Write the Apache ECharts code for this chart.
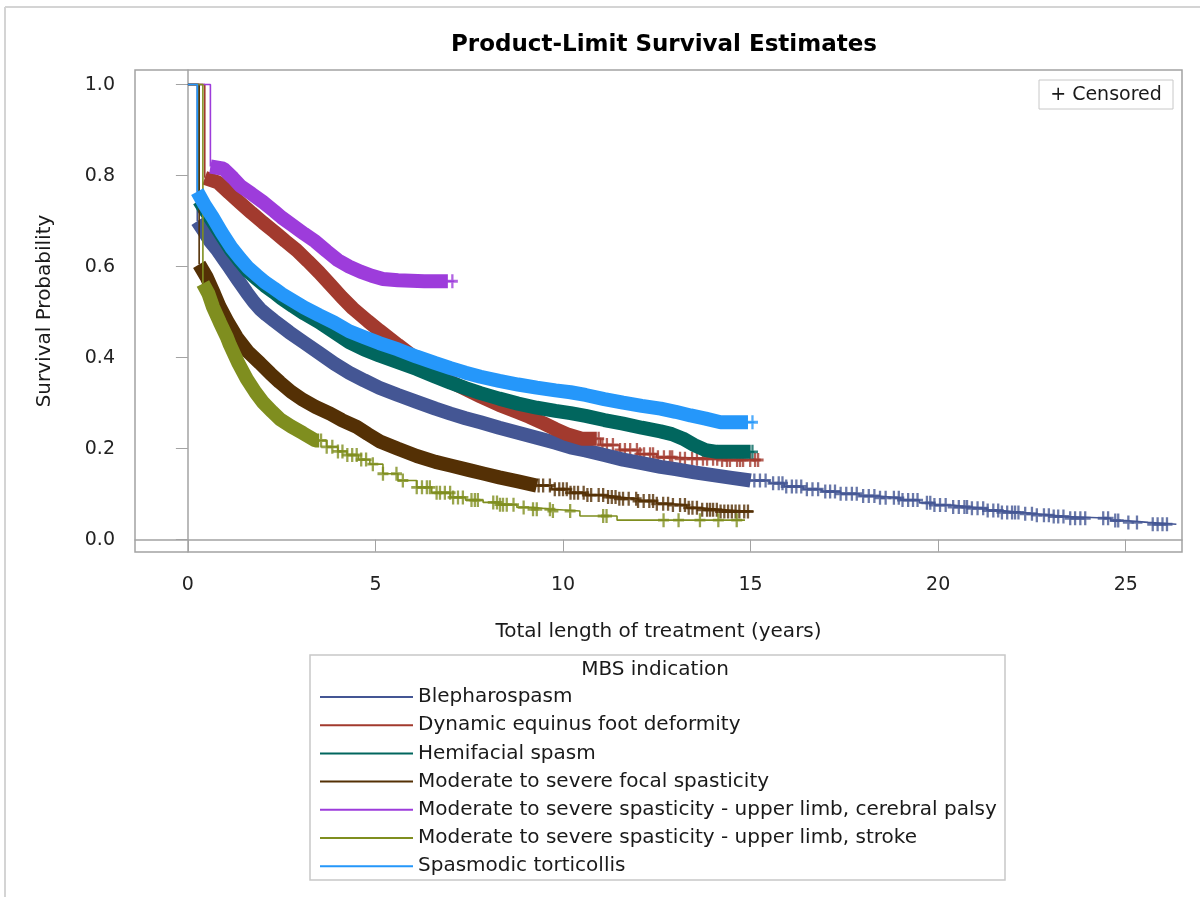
<!DOCTYPE html>
<html>
<head>
<meta charset="utf-8">
<title>Product-Limit Survival Estimates</title>
<script src="https://cdn.jsdelivr.net/npm/echarts@6/dist/echarts.min.js"></script>
<style>
  html, body { margin: 0; padding: 0; background: #fff; }
  #chart { width: 1200px; height: 897px; }
</style>
</head>
<body>
<div id="chart"></div>
<script>
// ---- data ----
const groupNames = [
  'Blepharospasm',
  'Dynamic equinus foot deformity',
  'Hemifacial spasm',
  'Moderate to severe focal spasticity',
  'Moderate to severe spasticity - upper limb, cerebral palsy',
  'Moderate to severe spasticity - upper limb, stroke',
  'Spasmodic torticollis'
];
const groupColors = ['#445694', '#A23A2E', '#01665E', '#543005', '#9D3CDB', '#7F8E1F', '#2597FA'];

const xTicks = [0, 5, 10, 15, 20, 25];
const yTicks = [0, 0.2, 0.4, 0.6, 0.8, 1.0];

// [years, survival]
const blephCurve = [[0,1],[0.25,0.70],[0.45,0.675],[0.6,0.655],[0.77,0.638],[0.95,0.617],[1.12,0.597],[1.35,0.569],
  [1.57,0.543],[1.75,0.523],[1.92,0.507],[2.1,0.494],[2.3,0.481],[2.7,0.456],[3.1,0.433],[3.5,0.41],[3.9,0.387],[4.3,0.367],[4.7,0.35],
  [5.1,0.334],[5.6,0.318],[6.1,0.303],[6.6,0.288],[7.0,0.277],[7.4,0.267],[7.8,0.258],[8.3,0.246],[8.8,0.235],
  [9.3,0.224],[9.8,0.213],[10.2,0.203],[10.6,0.196],[11.1,0.186],[11.6,0.176],[12.1,0.168],[12.6,0.16],[13.0,0.155],
  [13.5,0.148],[14.0,0.142],[14.5,0.136],[15.0,0.13],[15.5,0.124],[15.9,0.117],[16.4,0.111],[16.9,0.106],[17.4,0.101],
  [17.9,0.096],[18.4,0.092],[19.0,0.087],[19.5,0.081],[19.9,0.076],[20.4,0.072],[20.8,0.069],[21.3,0.064],[21.7,0.06],
  [22.2,0.057],[22.6,0.054],[23.0,0.051],[23.4,0.047],[24.6,0.042],[25.0,0.038],[25.6,0.034],[26.35,0.034]];
const blephCensored = [15.1,15.25,15.4,15.6,15.75,15.85,15.95,16.1,16.22,16.35,16.5,16.65,16.8,16.99,17.12,17.25,
  17.4,17.55,17.7,17.83,18.0,18.15,18.3,18.45,18.6,18.82,18.95,19.05,19.2,19.33,19.45,19.7,19.79,19.9,20.05,20.2,
  20.4,20.55,20.7,20.77,20.9,21.05,21.2,21.32,21.47,21.6,21.7,21.84,21.97,22.05,22.14,22.32,22.5,22.63,22.82,22.95,
  23.08,23.2,23.34,23.52,23.65,23.79,23.92,24.4,24.53,24.72,24.8,25.07,25.3,25.72,25.85,25.98,26.1];
const blephDenseTo = 15.0;

const equinusCurve = [[0,1],[0.45,0.795],[0.8,0.785],[1.1,0.762],[1.4,0.74],[1.7,0.718],[2.0,0.697],[2.3,0.677],
  [2.6,0.656],[2.9,0.636],[3.2,0.612],[3.5,0.587],[3.8,0.56],[4.1,0.533],[4.4,0.508],[4.8,0.48],[5.1,0.46],
  [5.6,0.428],[6.1,0.397],[6.6,0.367],[7.0,0.347],[7.3,0.335],[7.8,0.315],[8.3,0.296],[8.8,0.28],[9.1,0.27],
  [9.5,0.255],[9.8,0.243],[10.1,0.232],[10.5,0.222],[11.0,0.208],[11.5,0.197],[12.0,0.188],[12.5,0.181],
  [13.0,0.178],[14.2,0.175],[15.27,0.175]];
const equinusCensored = [10.95,11.05,11.17,11.33,11.52,11.65,11.79,11.97,12.05,12.16,12.32,12.4,12.53,12.69,12.85,
  12.91,13.12,13.25,13.44,13.57,13.73,13.84,14.0,14.11,14.24,14.37,14.45,14.64,14.72,14.8,14.99,15.12,15.2];
const equinusDenseTo = 10.9;

const hemiCurve = [[0,1],[0.3,0.745],[0.45,0.725],[0.65,0.7],[0.9,0.668],[1.15,0.636],[1.4,0.61],[1.6,0.59],
  [1.85,0.572],[2.05,0.558],[2.3,0.543],[2.5,0.53],[2.8,0.513],[3.1,0.497],[3.5,0.478],[3.9,0.456],[4.3,0.434],
  [4.7,0.418],[5.1,0.405],[5.6,0.39],[6.1,0.375],[6.6,0.358],[7.0,0.345],[7.4,0.333],[7.8,0.322],[8.3,0.31],
  [8.8,0.299],[9.3,0.29],[9.8,0.283],[10.2,0.278],[10.6,0.272],[11.1,0.263],[11.6,0.255],[12.1,0.246],[12.6,0.238],
  [12.9,0.232],[13.2,0.222],[13.5,0.208],[13.8,0.197],[14.1,0.193],[15.1,0.192]];
const hemiCensored = [15.05];
const hemiDenseTo = 15.0;

const focalCurve = [[0,1],[0.3,0.605],[0.5,0.577],[0.7,0.54],[0.85,0.511],[1.05,0.48],[1.3,0.445],[1.6,0.413],
  [1.92,0.388],[2.2,0.365],[2.45,0.346],[2.75,0.325],[3.07,0.307],[3.4,0.292],[3.79,0.277],[4.1,0.263],[4.5,0.248],
  [4.8,0.232],[5.12,0.216],[5.6,0.2],[6.1,0.184],[6.6,0.171],[7.0,0.163],[7.5,0.153],[7.9,0.145],[8.3,0.137],
  [8.8,0.128],[9.3,0.119],[9.7,0.111],[10.2,0.103],[10.6,0.098],[11.1,0.094],[11.5,0.09],[12.0,0.085],[12.5,0.079],
  [12.9,0.076],[13.3,0.07],[13.7,0.066],[14.2,0.062],[15.08,0.062]];
const focalCensored = [9.35,9.47,9.65,9.78,9.9,10.0,10.1,10.2,10.3,10.4,10.55,10.65,10.75,10.95,11.07,11.2,11.3,
  11.4,11.5,11.6,11.75,11.95,12.0,12.15,12.3,12.4,12.5,12.67,12.8,12.93,13.12,13.25,13.35,13.45,13.57,13.71,13.84,
  13.92,14.0,14.1,14.2,14.3,14.4,14.5,14.6,14.7,14.83,14.93];
const focalDenseTo = 9.3;

const palsyCurve = [[0,1],[0.6,0.82],[0.95,0.815],[1.2,0.795],[1.4,0.777],[1.7,0.76],[2.0,0.742],[2.3,0.722],
  [2.5,0.708],[2.8,0.69],[3.1,0.672],[3.4,0.655],[3.7,0.634],[4.0,0.614],[4.3,0.6],[4.6,0.589],[4.9,0.58],
  [5.2,0.573],[5.6,0.57],[6.3,0.568],[7.1,0.568]];
const palsyCensored = [7.05];
const palsyDenseTo = 6.93;

const strokeCurve = [[0,1],[0.4,0.563],[0.55,0.54],[0.67,0.511],[0.85,0.478],[1.04,0.445],[1.12,0.428],[1.35,0.387],
  [1.57,0.353],[1.8,0.324],[2.0,0.302],[2.25,0.281],[2.45,0.265],[2.75,0.249],[3.07,0.234],[3.4,0.218],[3.7,0.204],
  [4.0,0.194],[4.24,0.186],[4.55,0.176],[4.85,0.166],[5.2,0.145],[5.6,0.13],[6.1,0.115],[6.5,0.103],[7.0,0.093],
  [7.4,0.087],[7.87,0.082],[8.3,0.077],[8.77,0.071],[9.2,0.067],[9.7,0.063],[10.45,0.052],[11.44,0.043],[14.85,0.043]];
const strokeCensored = [3.55,3.7,3.85,4.0,4.12,4.25,4.38,4.5,4.62,4.75,4.93,5.2,5.56,5.73,6.1,6.24,6.37,6.45,6.63,
  6.72,6.85,6.99,7.07,7.2,7.33,7.56,7.65,7.73,8.14,8.24,8.32,8.4,8.5,8.68,8.95,9.2,9.3,9.65,9.73,10.19,11.07,11.16,
  12.68,13.08,13.65,14.14,14.63];
const strokeDenseTo = 3.5;

const tortiCurve = [[0,1],[0.25,0.765],[0.45,0.735],[0.65,0.71],[0.9,0.675],[1.15,0.643],[1.4,0.617],[1.6,0.598],
  [1.85,0.58],[2.05,0.566],[2.3,0.552],[2.5,0.54],[2.8,0.525],[3.1,0.51],[3.5,0.493],[3.9,0.477],[4.3,0.458],
  [4.7,0.445],[5.1,0.432],[5.6,0.418],[6.1,0.402],[6.6,0.388],[7.0,0.377],[7.4,0.367],[7.8,0.358],[8.3,0.349],
  [8.8,0.341],[9.3,0.334],[9.8,0.328],[10.2,0.324],[10.6,0.318],[11.1,0.309],[11.6,0.301],[12.1,0.294],[12.6,0.288],
  [13.0,0.281],[13.4,0.273],[13.8,0.266],[14.2,0.258],[15.1,0.258]];
const tortiCensored = [15.05];
const tortiDenseTo = 14.93;

const curves = [blephCurve, equinusCurve, hemiCurve, focalCurve, palsyCurve, strokeCurve, tortiCurve];
const censoredTimes = [blephCensored, equinusCensored, hemiCensored, focalCensored, palsyCensored, strokeCensored, tortiCensored];
const denseTo = [blephDenseTo, equinusDenseTo, hemiDenseTo, focalDenseTo, palsyDenseTo, strokeDenseTo, tortiDenseTo];

// ---- helpers ----
// value of a step curve at time t
function stepAt(curve, t) {
  let v = curve[0][1];
  for (const p of curve) {
    if (p[0] <= t) v = p[1];
  }
  return v;
}

const FONT = '"DejaVu Sans", sans-serif';
const plusSymbol = 'path://M4.75,0h2.5v4.75h4.75v2.5h-4.75v4.75h-2.5v-4.75h-4.75v-2.5h4.75z';

const series = [];
curves.forEach((curve, i) => {
  const color = groupColors[i];
  const d = denseTo[i];
  // thick band where the censor marks are so dense they merge into one stroke
  const band = curve.filter(p => p[0] > 0 && p[0] <= d);
  band.push([d, stepAt(curve, d)]);
  // thin step line: the first drop, then the sparse tail after the band
  const thin = [curve[0], curve[1], '-', [d, stepAt(curve, d)]]
    .concat(curve.filter(p => p[0] > d));
  series.push({
    type: 'line',
    name: groupNames[i],
    data: thin,
    step: 'end',
    symbol: 'none',
    connectNulls: false,
    silent: true,
    lineStyle: { color: color, width: 1.6 },
    itemStyle: { color: color }
  });
  series.push({
    type: 'line',
    name: groupNames[i] + ' (dense)',
    data: band,
    symbol: 'none',
    silent: true,
    lineStyle: { color: color, width: 14, cap: 'butt', join: 'bevel' },
    itemStyle: { color: color }
  });
  series.push({
    type: 'scatter',
    name: groupNames[i] + ' (censored)',
    data: censoredTimes[i].map(t => [t, stepAt(curve, t)]),
    symbol: plusSymbol,
    symbolSize: [11, 14],
    silent: true,
    itemStyle: { color: color }
  });
});

const axisGray = '#a3a3a3';

const option = {
  backgroundColor: '#ffffff',
  animation: false,
  title: {
    text: 'Product-Limit Survival Estimates',
    left: 659,
    top: 29,
    textAlign: 'center',
    textStyle: { fontFamily: FONT, fontSize: 23, fontWeight: 'bold', color: '#000' }
  },
  grid: {
    left: 135, right: 18, top: 70, bottom: 345,
    show: true, borderColor: axisGray, borderWidth: 1.5, backgroundColor: '#fff'
  },
  xAxis: {
    type: 'value',
    min: -1.41,
    max: 26.5,
    name: 'Total length of treatment (years)',
    nameLocation: 'middle',
    nameGap: 70,
    nameTextStyle: { fontFamily: FONT, fontSize: 20, color: '#1a1a1a' },
    axisLine: { show: true, lineStyle: { color: axisGray, width: 1.5 } },
    axisTick: { show: true, length: 12, customValues: xTicks, lineStyle: { color: axisGray } },
    axisLabel: { customValues: xTicks, margin: 24, fontFamily: FONT, fontSize: 19, color: '#222' },
    splitLine: { show: false }
  },
  yAxis: {
    type: 'value',
    min: -0.027,
    max: 1.032,
    name: 'Survival Probability',
    nameLocation: 'middle',
    nameGap: 80,
    nameTextStyle: { fontFamily: FONT, fontSize: 20, color: '#1a1a1a' },
    axisLine: { show: true, lineStyle: { color: axisGray, width: 1.5 } },
    axisTick: { show: true, length: 12, customValues: yTicks, lineStyle: { color: axisGray } },
    axisLabel: {
      customValues: yTicks, margin: 20, fontFamily: FONT, fontSize: 19, color: '#222',
      formatter: v => v.toFixed(1)
    },
    splitLine: { show: false }
  },
  legend: {
    data: groupNames,
    orient: 'vertical',
    left: 320,
    top: 686,
    padding: 0,
    icon: 'rect',
    itemWidth: 93,
    itemHeight: 2,
    itemGap: 6.2,
    selectedMode: false,
    textStyle: { fontFamily: FONT, fontSize: 20, lineHeight: 22, color: '#1a1a1a' }
  },
  graphic: [
    // outer frame of the image
    { type: 'line', shape: { x1: 5, y1: 7, x2: 1200, y2: 7 }, style: { stroke: '#d4d4d4', lineWidth: 2 }, silent: true },
    { type: 'line', shape: { x1: 5, y1: 7, x2: 5, y2: 897 }, style: { stroke: '#d4d4d4', lineWidth: 2 }, silent: true },
    // censored key, inside the plot area
    { type: 'rect', shape: { x: 1039, y: 80, width: 134, height: 29 }, style: { fill: '#fff', stroke: '#c8c8c8', lineWidth: 1 }, z: 50, silent: true },
    { type: 'text', x: 1106, y: 95, z: 51, silent: true,
      style: { text: '+ Censored', fontFamily: FONT, fontSize: 19, fill: '#1a1a1a', align: 'center', verticalAlign: 'middle' } },
    // legend box and its title
    { type: 'rect', shape: { x: 310, y: 655, width: 695, height: 225 }, style: { fill: 'none', stroke: '#c8c8c8', lineWidth: 1.5 }, silent: true },
    { type: 'text', x: 655, y: 670, silent: true,
      style: { text: 'MBS indication', fontFamily: FONT, fontSize: 20, fill: '#1a1a1a', align: 'center', verticalAlign: 'middle' } }
  ],
  series: series
};

const chart = echarts.init(document.getElementById('chart'), null, { renderer: 'canvas' });
chart.setOption(option);
</script>
</body>
</html>
